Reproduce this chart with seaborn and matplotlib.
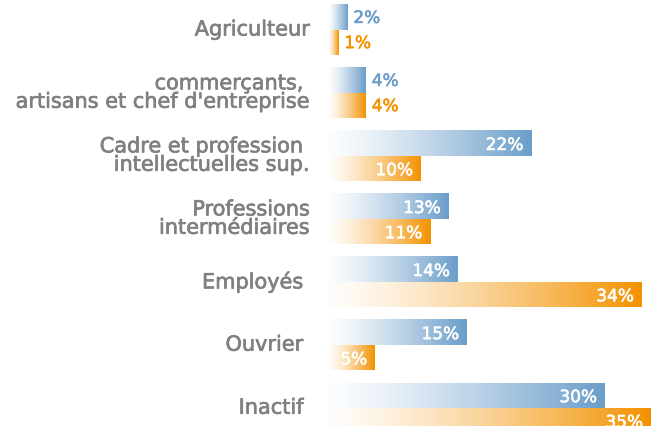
import matplotlib
matplotlib.use("Agg")
import matplotlib.pyplot as plt
import matplotlib.patheffects as pe
import seaborn as sns
import numpy as np
import pandas as pd
from matplotlib.colors import to_rgb

categories = [
    "Agriculteur",
    "commerçants, \nartisans et chef d'entreprise",
    "Cadre et profession \nintellectuelles sup.",
    "Professions\nintermédiaires",
    "Employés ",
    "Ouvrier ",
    "Inactif ",
]
series_names = ["Série 1", "Série 2"]
values_blue = [2, 4, 22, 13, 14, 15, 30]
values_orange = [1, 4, 10, 11, 34, 5, 35]

BLUE = "#6a9dca"
ORANGE = "#f39200"
GREY = "#808080"

sns.set_theme(style="white")
plt.rcParams["font.family"] = ["DejaVu Sans"]

df = pd.DataFrame({
    "cat": categories * 2,
    "val": values_blue + values_orange,
    "serie": [series_names[0]] * len(categories) + [series_names[1]] * len(categories),
})

fig = plt.figure(figsize=(6.59, 4.27), dpi=100)
ax = fig.add_axes([329 / 659, 0, 330 / 659, 1])
sns.barplot(data=df, y="cat", x="val", hue="serie", orient="h",
            palette=[BLUE, ORANGE], width=0.8, saturation=1,
            legend=False, ax=ax, errorbar=None)

XLIM = (0, 35.9)
YLIM = (6.29, -0.484)


def gradient_img(color):
    c = np.array(to_rgb(color))
    t = np.linspace(0, 1, 256)
    f = 0.02 + 0.98 * t ** 1.3
    img = (1 - f)[:, None] * np.ones(3) + f[:, None] * c
    return img[None, :, :]


bars = [p for p in ax.patches if p.get_width() > 0]
for p in bars:
    fc = p.get_facecolor()
    x0, y0, w, h = p.get_x(), p.get_y(), p.get_width(), p.get_height()
    im = ax.imshow(gradient_img(fc[:3]), extent=[x0, x0 + w, y0 + h, y0],
                   aspect="auto", interpolation="bilinear", zorder=2)
    im.set_clip_path(p)
    p.set_facecolor("none")
    p.set_edgecolor("none")

for cont, col, vals in zip(ax.containers, [BLUE, ORANGE], [values_blue, values_orange]):
    for rect, v in zip(cont, vals):
        yc = rect.get_y() + rect.get_height() / 2
        end = rect.get_x() + rect.get_width()
        if v >= 5:
            c, off, ha = "white", (-8, -2), "right"
        else:
            c, off, ha = col, (6, -1), "left"
        ax.annotate(f"{v}%", (end, yc), xytext=off, textcoords="offset pixels",
                    ha=ha, va="center", color=c, fontsize=12.2, zorder=5,
                    path_effects=[pe.withStroke(linewidth=0.4, foreground=c)])

# category labels
ticks = ax.get_yticks()
for yv, cat in zip(ticks, categories):
    ax.annotate(cat, (0, yv), xycoords=("axes fraction", "data"),
                xytext=(-19, 0), textcoords="offset pixels",
                ha="right", va="center", multialignment="right",
                color=GREY, fontsize=15, linespacing=0.9,
                path_effects=[pe.withStroke(linewidth=0.5, foreground=GREY)],
                annotation_clip=False)

ax.set_yticklabels([])
ax.set_xlim(*XLIM)
ax.set_ylim(*YLIM)
ax.set_xlabel("")
ax.set_ylabel("")
ax.set_xticks([])
ax.tick_params(axis="y", length=0)
for s in ax.spines.values():
    s.set_visible(False)

fig.savefig("out.png", dpi=100)
